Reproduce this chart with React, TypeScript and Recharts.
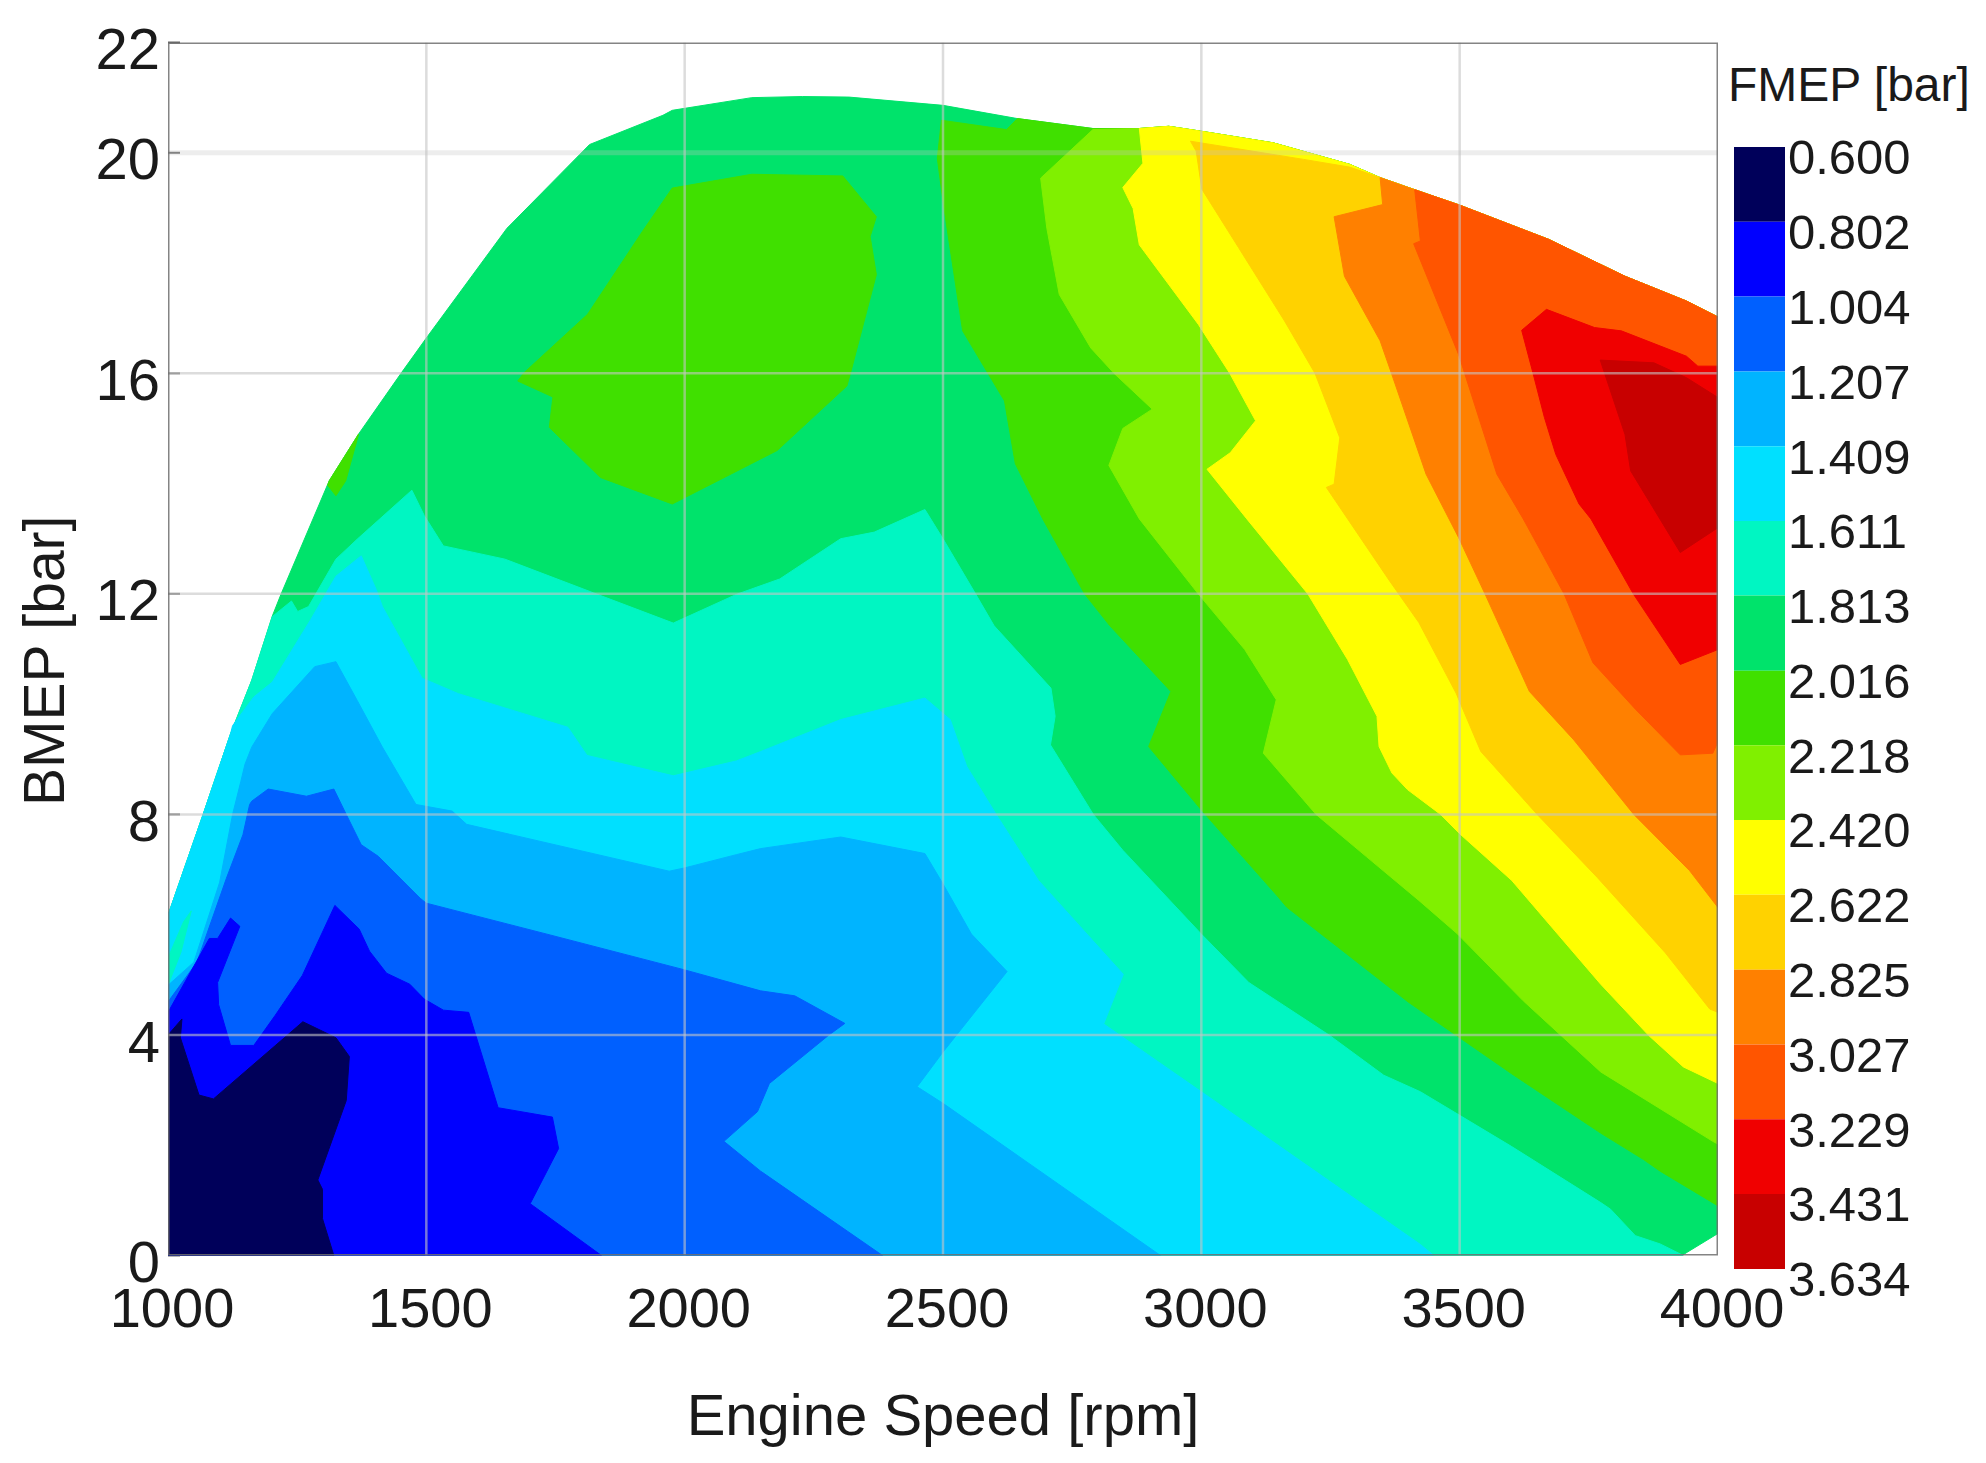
import React from 'react'
import { ScatterChart, Scatter, XAxis, YAxis, BarChart, Bar } from 'recharts'

type Pt = [number, number]

const FONT = '"Liberation Sans", Arial, sans-serif'
const xTicks = [1000, 1500, 2000, 2500, 3000, 3500, 4000]
const yTicks = [0, 4, 8, 12, 16, 20, 22]
const xGrid = [1500, 2000, 2500, 3000, 3500]
const yGrid = [4, 8, 12, 16]

const levels = [0.6, 0.802, 1.004, 1.207, 1.409, 1.611, 1.813, 2.016, 2.218, 2.42, 2.622, 2.825, 3.027, 3.229, 3.431, 3.634]
const bandColors = ['#00005a', '#0000ff', '#0060ff', '#00b4ff', '#00e0ff', '#00f6c2', '#00e36b', '#40e000', '#80f000', '#ffff00', '#ffd200', '#ff8000', '#ff5500', '#f00000', '#c80000']

// outline of the measured map
const envelopeLeft: Pt[] = [[1000, 0], [1000, 6.17], [1068, 8], [1121, 9.46], [1162, 10.43], [1202, 11.6], [1219, 12], [1312, 14.05], [1369, 14.9], [1451, 16], [1500, 16.64], [1656, 18.63], [1816, 20.15], [1958, 20.68], [1976, 20.77], [2130, 21], [2228, 21.02], [2318, 21.01], [2500, 20.86]]
const envelopeTop: Pt[] = [[2644, 20.62], [2790, 20.44], [2880, 20.44], [2937, 20.48], [3000, 20.39], [3139, 20.18], [3287, 19.79], [3346, 19.55], [3413, 19.33], [3500, 19.05], [3672, 18.43], [3820, 17.76], [3939, 17.31], [4000, 17.02]]
const envelopeEnd: Pt[] = [[4000, 0.4], [3930, 0]]

// low side, painted from the largest region to the smallest
const below1813: Pt[] = [[1000, 0], [1000, 6.17], [1068, 8], [1121, 9.46], [1162, 10.43], [1202, 11.59], [1239, 11.87], [1251, 11.68], [1272, 11.77], [1325, 12.63], [1366, 12.99], [1472, 13.88], [1496, 13.42], [1533, 12.87], [1652, 12.63], [1823, 12.02], [1978, 11.47], [2100, 11.99], [2184, 12.27], [2302, 13], [2367, 13.12], [2465, 13.53], [2500, 13], [2563, 12], [2599, 11.42], [2709, 10.29], [2717, 9.78], [2708, 9.26], [2791, 8], [2848, 7.35], [3000, 5.83], [3092, 4.95], [3247, 4], [3353, 3.27], [3424, 2.97], [3600, 1.98], [3773, 0.96], [3792, 0.84], [3840, 0.36], [3888, 0.21], [3933, 0]]
const below1611: Pt[] = [[1000, 0], [1000, 6.17], [1068, 8], [1121, 9.46], [1125, 9.61], [1166, 10.13], [1202, 10.4], [1276, 11.53], [1325, 12.32], [1374, 12.69], [1403, 12.08], [1415, 11.77], [1492, 10.47], [1562, 10.19], [1774, 9.58], [1811, 9.07], [1978, 8.7], [2100, 8.97], [2147, 9.14], [2302, 9.72], [2465, 10.11], [2514, 9.72], [2546, 8.87], [2603, 8], [2685, 6.8], [2849, 5.1], [2811, 4.2], [3000, 2.97], [3424, 0.2], [3450, 0]]
const below1409: Pt[] = [[1000, 0], [1000, 4.9], [1050, 5.32], [1100, 6.77], [1125, 8], [1141, 8.6], [1149, 8.91], [1162, 9.22], [1202, 9.83], [1284, 10.68], [1325, 10.77], [1366, 10.07], [1415, 9.22], [1480, 8.18], [1550, 8.06], [1578, 7.82], [1970, 6.97], [2000, 7.03], [2100, 7.27], [2147, 7.38], [2302, 7.59], [2465, 7.29], [2500, 6.74], [2555, 5.83], [2624, 5.15], [2500, 3.69], [2450, 3.06], [2500, 2.76], [2921, 0]]
const below1207: Pt[] = [[1000, 0], [1000, 4.6], [1056, 5.32], [1113, 6.84], [1145, 7.63], [1158, 8.18], [1162, 8.24], [1194, 8.46], [1268, 8.33], [1321, 8.46], [1345, 8], [1374, 7.45], [1407, 7.24], [1488, 6.48], [1500, 6.39], [1741, 5.81], [2000, 5.18], [2147, 4.8], [2213, 4.71], [2310, 4.21], [2278, 3.99], [2164, 3.12], [2141, 2.61], [2076, 2.07], [2147, 1.53], [2383, 0]]
const below1004: Pt[] = [[1000, 0], [1000, 4.41], [1080, 5.75], [1096, 5.75], [1121, 6.12], [1139, 5.97], [1096, 4.95], [1098, 4.55], [1121, 3.81], [1166, 3.81], [1207, 4.35], [1260, 5.08], [1323, 6.35], [1370, 5.92], [1390, 5.52], [1423, 5.12], [1468, 4.92], [1496, 4.65], [1533, 4.45], [1582, 4.41], [1639, 2.68], [1744, 2.51], [1756, 1.94], [1701, 0.94], [1839, 0]]
const below802: Pt[] = [[1000, 0], [1321, 0], [1299, 0.67], [1299, 1.2], [1290, 1.37], [1345, 2.81], [1351, 3.61], [1325, 3.95], [1261, 4.24], [1229, 3.98], [1088, 2.84], [1060, 2.91], [1024, 3.95], [1027, 4.29], [1000, 4]]
const leftWedge: Pt[] = [[1002, 4.95], [1000, 5.4], [1030, 6.05], [1045, 6.25], [1025, 5.5]]

// high side, each contour runs from the top outline to the right edge
const above2016: Pt[] = [[2644, 20.62], [2623, 20.42], [2497, 20.59], [2489, 19.9], [2501, 19.05], [2538, 16.77], [2587, 16], [2619, 15.5], [2640, 14.36], [2693, 13.36], [2774, 12], [2823, 11.42], [2941, 10.23], [2898, 9.23], [3000, 8.08], [3149, 6.5], [3165, 6.32], [3400, 4.6], [3600, 3.3], [3773, 2.22], [3856, 1.74], [3888, 1.53], [4000, 0.9]]
const above2218: Pt[] = [[2790, 20.42], [2689, 19.54], [2701, 18.63], [2725, 17.43], [2786, 16.46], [2831, 16], [2905, 15.35], [2848, 15], [2821, 14.33], [2880, 13.36], [2994, 12], [3084, 10.99], [3145, 10.08], [3120, 9.11], [3222, 8], [3320, 7.23], [3421, 6.44], [3496, 5.83], [3623, 4.62], [3773, 3.33], [3990, 2.07], [4000, 2.02]]
const above2420: Pt[] = [[2880, 20.44], [2887, 19.81], [2848, 19.37], [2868, 18.99], [2880, 18.33], [2994, 16.89], [3055, 16], [3105, 15.14], [3056, 14.56], [3011, 14.26], [3088, 13.36], [3206, 12], [3283, 10.81], [3340, 9.78], [3344, 9.23], [3369, 8.75], [3399, 8.45], [3463, 8], [3500, 7.65], [3601, 6.8], [3773, 4.92], [3866, 3.99], [3933, 3.42], [4000, 3.12]]
const above2622: Pt[] = [[3346, 19.55], [3287, 19.74], [3198, 19.88], [2979, 20.21], [2990, 20.03], [3001, 19.34], [3072, 18.28], [3161, 16.95], [3220, 16], [3268, 14.83], [3257, 13.99], [3242, 13.93], [3364, 12.24], [3421, 11.48], [3493, 10.2], [3541, 9.14], [3650, 8], [3766, 6.86], [3898, 5.49], [3984, 4.47], [4000, 4.41]]
const above2825: Pt[] = [[3346, 19.55], [3351, 19.06], [3257, 18.84], [3277, 17.76], [3346, 16.59], [3368, 16], [3435, 14.17], [3498, 13.02], [3549, 12], [3635, 10.23], [3721, 9.35], [3837, 8], [3945, 6.98], [4000, 6.31]]
const above3027: Pt[] = [[3413, 19.33], [3424, 18.4], [3411, 18.35], [3498, 16.34], [3572, 14.17], [3623, 13.36], [3702, 12], [3758, 10.75], [3841, 9.9], [3927, 9.08], [3990, 9.11], [4000, 9.32]]
const above3229: Pt[] = [[3668, 17.16], [3620, 16.78], [3642, 16], [3664, 15.2], [3686, 14.53], [3731, 13.63], [3754, 13.36], [3836, 12], [3927, 10.72], [4000, 10.99], [4000, 16.13], [3961, 16.13], [3939, 16.31], [3813, 16.77], [3761, 16.83]]
const above3431: Pt[] = [[3772, 16.24], [3876, 16.19], [3939, 15.92], [4000, 15.56], [4000, 13.2], [3927, 12.75], [3831, 14.23], [3820, 14.89]]

// the two closed islands of the 2.016 band
const island2016: Pt[] = [[1689, 16.01], [1677, 15.86], [1745, 15.57], [1738, 15.02], [1837, 14.11], [1976, 13.63], [2179, 14.6], [2314, 15.77], [2322, 16.04], [2371, 17.79], [2359, 18.48], [2371, 18.84], [2306, 19.58], [2130, 19.61], [1976, 19.36], [1918, 18.57], [1812, 17.07]]
const sliver2016: Pt[] = [[1369, 14.9], [1344, 14.05], [1325, 13.78], [1309, 13.97], [1312, 14.05]]

const closeOnTop = (contour: Pt[]) => [...contour, ...envelopeTop.filter(p => p[0] > contour[0][0]).reverse()]

const regions: { pts: Pt[]; color: string }[] = [
  { pts: [...envelopeLeft, ...envelopeTop, ...envelopeEnd], color: bandColors[6] },
  { pts: below1813, color: bandColors[5] },
  { pts: below1611, color: bandColors[4] },
  { pts: below1409, color: bandColors[3] },
  { pts: below1207, color: bandColors[2] },
  { pts: below1004, color: bandColors[1] },
  { pts: below802, color: bandColors[0] },
  { pts: leftWedge, color: bandColors[5] },
  { pts: island2016, color: bandColors[7] },
  { pts: sliver2016, color: bandColors[7] },
  { pts: closeOnTop(above2016), color: bandColors[7] },
  { pts: closeOnTop(above2218), color: bandColors[8] },
  { pts: closeOnTop(above2420), color: bandColors[9] },
  { pts: closeOnTop(above2622), color: bandColors[10] },
  { pts: closeOnTop(above2825), color: bandColors[11] },
  { pts: closeOnTop(above3027), color: bandColors[12] },
  { pts: above3229, color: bandColors[13] },
  { pts: above3431, color: bandColors[14] },
]

const toRows = (pts: Pt[]) => pts.map(([rpm, bar]) => ({ rpm, bar }))

// grid and frame go on top of the contours, as in the original, so they are series too
const frame: Pt[] = [[1000, 0], [4000, 0], [4000, 22], [1000, 22]]
const vertical = (rpm: number): Pt[] => [[rpm, 0], [rpm, 22]]
const horizontal = (bar: number): Pt[] => [[1000, bar], [4000, bar]]

const overlays: { pts: Pt[]; width: number; opacity: number; color: string; closed?: boolean }[] = [
  ...xGrid.map(v => ({ pts: vertical(v), width: 2.5, opacity: 0.6, color: '#c4c4c4' })),
  ...yGrid.map(v => ({ pts: horizontal(v), width: 2.5, opacity: 0.6, color: '#c4c4c4' })),
  { pts: horizontal(20), width: 5, opacity: 0.3, color: '#c4c4c4' },
  { pts: frame, width: 3, opacity: 0.85, color: '#6e6e6e', closed: true },
]

// one stacked column for the colour bar
const barRow: Record<string, number | string> = { name: 'FMEP', base: levels[0] }
bandColors.forEach((_, i) => { barRow['s' + i] = levels[i + 1] - levels[i] })

const App = () => {
  return (
    <div style={{ position: 'absolute', left: 0, top: 0, width: 1986, height: 1463, background: '#fff' }}>
      <ScatterChart width={1986} height={1463} margin={{ top: 42.5, right: 268, left: 68, bottom: 57.5 }}>
        <XAxis
          type="number"
          dataKey="rpm"
          domain={[1000, 4000]}
          ticks={xTicks}
          interval={0}
          height={150}
          allowDataOverflow
          tickLine={false}
          tickSize={0}
          tickMargin={32}
          axisLine={false}
          tick={{ fontSize: 56, fontFamily: FONT, fill: '#1a1a1a', dx: 4 }}
          label={{ value: 'Engine Speed [rpm]', position: 'insideBottom', offset: -29, fontSize: 58, fontFamily: FONT, fill: '#1a1a1a' }}
        />
        <YAxis
          type="number"
          dataKey="bar"
          domain={[0, 22]}
          ticks={yTicks}
          interval={0}
          width={100}
          allowDataOverflow
          tickSize={-12}
          tickMargin={20}
          tickLine={{ stroke: '#666', strokeWidth: 2 }}
          axisLine={false}
          tick={{ fontSize: 58, fontFamily: FONT, fill: '#1a1a1a', dy: 6 }}
          label={{ value: 'BMEP [bar]', angle: -90, position: 'insideLeft', offset: -24, dy: 157, fontSize: 57, fontFamily: FONT, fill: '#1a1a1a' }}
        />
        {regions.map((r, i) => (
          <Scatter
            key={i}
            data={toRows(r.pts)}
            isAnimationActive={false}
            line={{ fill: r.color, stroke: r.color, strokeWidth: 1 }}
            lineJointType="linearClosed"
            shape={() => <g />}
          />
        ))}
        {overlays.map((o, i) => (
          <Scatter
            key={'o' + i}
            data={toRows(o.pts)}
            isAnimationActive={false}
            line={{ fill: 'none', stroke: o.color, strokeWidth: o.width, strokeOpacity: o.opacity }}
            lineJointType={o.closed ? 'linearClosed' : 'linear'}
            shape={() => <g />}
          />
        ))}
      </ScatterChart>

      <div style={{ position: 'absolute', left: 1728, top: 58, fontFamily: FONT, fontSize: 48, lineHeight: '54px', color: '#1a1a1a', whiteSpace: 'nowrap' }}>
        FMEP [bar]
      </div>

      <div style={{ position: 'absolute', left: 1734, top: 120 }}>
        <BarChart width={252} height={1200} data={[barRow]} margin={{ top: 27, right: 0, left: 0, bottom: 51 }} barCategoryGap={0}>
          <XAxis dataKey="name" hide />
          <YAxis
            orientation="right"
            type="number"
            domain={[levels[0], levels[levels.length - 1]]}
            ticks={levels}
            interval={0}
            reversed
            allowDataOverflow
            width={201}
            axisLine={false}
            tickLine={false}
            tickSize={0}
            tickMargin={3}
            tickFormatter={(v: number) => v.toFixed(3)}
            tick={{ fontSize: 49, fontFamily: FONT, fill: '#1a1a1a', dy: 10 }}
          />
          <Bar dataKey="base" stackId="c" fill="none" isAnimationActive={false} />
          {bandColors.map((c, i) => (
            <Bar key={c} dataKey={'s' + i} stackId="c" fill={c} isAnimationActive={false} />
          ))}
        </BarChart>
      </div>
    </div>
  )
}

export default App
